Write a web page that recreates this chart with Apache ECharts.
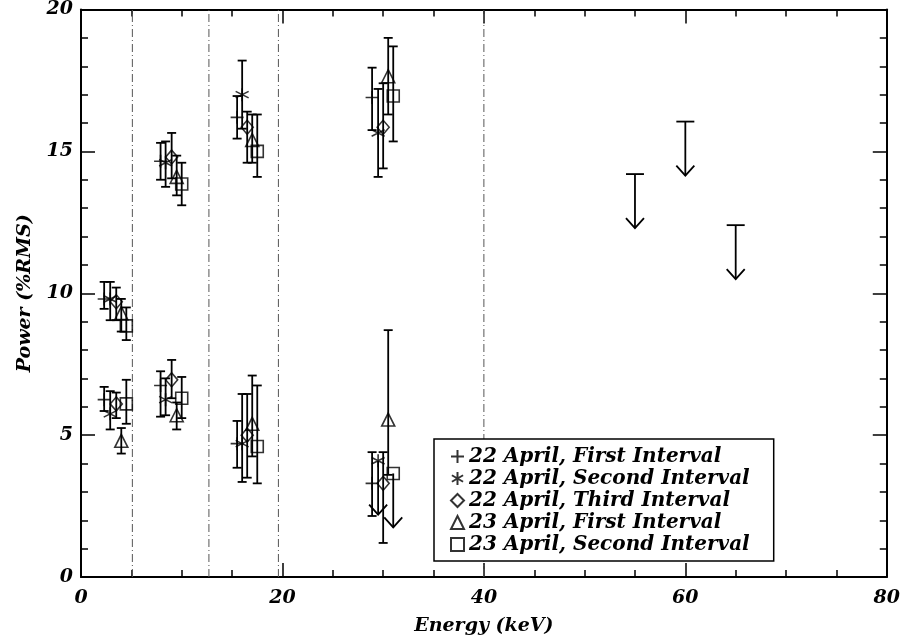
<!DOCTYPE html>
<html>
<head>
<meta charset="utf-8">
<script src="https://cdn.jsdelivr.net/npm/echarts@6/dist/echarts.min.js"></script>
<style>
  html, body { margin: 0; background: #fff; }
  #chart { width: 903px; height: 641px; }
</style>
</head>
<body>
<div id="chart"></div>
<script>
const seriesNames = [
  '22 April, First Interval',
  '22 April, Second Interval',
  '22 April, Third Interval',
  '23 April, First Interval',
  '23 April, Second Interval'
];

// rows: [energy keV, power %RMS, error low, error high]; null errors = upper limit (arrow)
const apr22First = [
  [2.3, 9.8, 9.45, 10.4], [7.9, 14.65, 14.0, 15.3], [15.5, 16.2, 15.45, 16.95], [28.9, 16.9, 15.75, 17.95],
  [2.3, 6.25, 5.85, 6.7], [7.9, 6.75, 5.65, 7.25], [15.5, 4.7, 3.85, 5.5], [28.9, 3.3, 2.15, 4.4]
];
const apr22Second = [
  [2.9, 9.8, 9.05, 10.4], [8.4, 14.6, 13.75, 15.35], [16.0, 17.0, 15.8, 18.2], [29.5, 15.65, 14.1, 17.2],
  [2.9, 5.75, 5.2, 6.55], [8.4, 6.25, 5.7, 7.0], [16.0, 4.7, 3.35, 6.45], [29.5, 4.1, null, null]
];
const apr22Third = [
  [3.5, 9.7, 9.05, 10.2], [9.0, 14.8, 14.05, 15.65], [16.5, 15.85, 14.6, 16.4], [30.0, 15.85, 14.4, 17.4],
  [3.5, 6.1, 5.6, 6.5], [9.0, 6.95, 6.3, 7.65], [16.5, 5.0, 3.5, 6.45], [30.0, 3.3, 1.2, 4.4]
];
const apr23First = [
  [4.0, 9.3, 8.65, 9.8], [9.5, 14.1, 13.45, 14.85], [17.0, 15.4, 14.6, 16.3], [30.5, 17.65, 16.3, 19.0],
  [4.0, 4.8, 4.35, 5.25], [9.5, 5.7, 5.2, 6.15], [17.0, 5.4, 4.25, 7.1], [30.5, 5.55, 3.6, 8.7]
];
const apr23Second = [
  [4.5, 8.85, 8.35, 9.5], [10.0, 13.85, 13.1, 14.6], [17.5, 15.0, 14.1, 16.3], [31.0, 16.95, 15.35, 18.7],
  [4.5, 6.1, 5.4, 6.95], [10.0, 6.3, 5.6, 7.05], [17.5, 4.6, 3.3, 6.75], [31.0, 3.65, null, null]
];

// capped upper limits at high energy: [energy keV, limit %RMS]
const highLimits = [[55, 14.2], [60, 16.05], [65, 12.4]];

// energy band boundaries (dash-dot lines)
const bandEdges = [5.1, 12.7, 19.6, 40];

const allSets = [apr22First, apr22Second, apr22Third, apr23First, apr23Second];

const FONT = 'DejaVu Serif';
const ARROW_LEN = 54;
const LW = 1.8;

const symbols = [
  'path://M0,5L10,5M5,0L5,10',
  'path://M5,0L5,10M0.7,2.5L9.3,7.5M0.7,7.5L9.3,2.5',
  'diamond',
  'triangle',
  'rect'
];
const symbolSizes = [13, 13, [12, 14], 13, 12];

const errorRows = [];
const openLimits = [];
allSets.forEach(set => set.forEach(r => {
  if (r[2] == null) openLimits.push([r[0], r[1]]);
  else errorRows.push([r[0], r[2], r[3]]);
}));

function errorBar(params, api) {
  const lo = api.coord([api.value(0), api.value(1)]);
  const hi = api.coord([api.value(0), api.value(2)]);
  const st = { stroke: '#000', lineWidth: LW, fill: 'none' };
  return {
    type: 'group',
    children: [
      { type: 'line', shape: { x1: lo[0], y1: lo[1], x2: hi[0], y2: hi[1] }, style: st },
      { type: 'line', shape: { x1: lo[0] - 4.5, y1: lo[1], x2: lo[0] + 4.5, y2: lo[1] }, style: st },
      { type: 'line', shape: { x1: hi[0] - 4.5, y1: hi[1], x2: hi[0] + 4.5, y2: hi[1] }, style: st }
    ]
  };
}

function arrow(withCap) {
  return function (params, api) {
    const p = api.coord([api.value(0), api.value(1)]);
    const tip = p[1] + ARROW_LEN;
    const st = { stroke: '#000', lineWidth: LW, fill: 'none' };
    const kids = [
      { type: 'line', shape: { x1: p[0], y1: p[1], x2: p[0], y2: tip }, style: st },
      { type: 'polyline', shape: { points: [[p[0] - 9, tip - 10], [p[0], tip], [p[0] + 9, tip - 10]] }, style: st }
    ];
    if (withCap) kids.push({ type: 'line', shape: { x1: p[0] - 9, y1: p[1], x2: p[0] + 9, y2: p[1] }, style: st });
    return { type: 'group', children: kids };
  };
}

function bandLine(params, api) {
  const b = api.coord([api.value(0), 0]);
  const t = api.coord([api.value(0), 20]);
  return {
    type: 'line',
    shape: { x1: b[0], y1: b[1], x2: t[0], y2: t[1] },
    style: { stroke: '#555', lineWidth: 1, lineDash: [8, 3, 1, 3] }
  };
}

const labelFont = { fontFamily: FONT, fontStyle: 'italic', fontWeight: 'bold', fontSize: 19, color: '#000' };

const axisCommon = {
  type: 'value',
  axisLine: { show: true, onZero: false, lineStyle: { color: '#000', width: 2 } },
  axisTick: { show: true, inside: true, length: 14, lineStyle: { color: '#000', width: 1.5 } },
  minorTick: { show: true, length: 7, lineStyle: { color: '#000', width: 1.5 } },
  splitLine: { show: false }
};

const chart = echarts.init(document.getElementById('chart'));

const series = [
  { type: 'custom', renderItem: bandLine, silent: true, z: 1, data: bandEdges.map(e => [e]) },
  { type: 'custom', renderItem: errorBar, silent: true, z: 2, data: errorRows },
  { type: 'custom', renderItem: arrow(false), silent: true, z: 2, data: openLimits },
  { type: 'custom', renderItem: arrow(true), silent: true, z: 2, data: highLimits }
];

seriesNames.forEach((name, i) => {
  series.push({
    name: name,
    type: 'scatter',
    z: 3,
    symbol: symbols[i],
    symbolSize: symbolSizes[i],
    itemStyle: { color: 'rgba(0,0,0,0)', borderColor: '#000', borderWidth: 1.6 },
    data: allSets[i].map(r => [r[0], r[1]])
  });
});

chart.setOption({
  animation: false,
  backgroundColor: '#fff',
  grid: { left: 81, right: 16, top: 8, bottom: 60 },
  legend: {
    orient: 'vertical',
    left: 434,
    top: 439,
    padding: [7, 24, 6, 16],
    itemWidth: 13,
    itemHeight: 13,
    itemGap: 1,
    itemTextGap: 8,
    borderColor: '#000',
    borderWidth: 1.5,
    backgroundColor: '#fff',
    z: 10,
    textStyle: Object.assign({}, labelFont, { fontSize: 20, lineHeight: 21 }),
    data: seriesNames
  },
  xAxis: [
    Object.assign({}, axisCommon, {
      min: 0, max: 80, interval: 20, position: 'bottom',
      minorTick: Object.assign({}, axisCommon.minorTick, { splitNumber: 4 }),
      axisLabel: Object.assign({ margin: 12 }, labelFont),
      name: 'Energy (keV)', nameLocation: 'middle', nameGap: 40,
      nameTextStyle: labelFont
    }),
    Object.assign({}, axisCommon, {
      min: 0, max: 80, interval: 20, position: 'top',
      minorTick: Object.assign({}, axisCommon.minorTick, { splitNumber: 4 }),
      axisLabel: { show: false }
    })
  ],
  yAxis: [
    Object.assign({}, axisCommon, {
      min: 0, max: 20, interval: 5, position: 'left',
      minorTick: Object.assign({}, axisCommon.minorTick, { splitNumber: 5 }),
      axisLabel: Object.assign({ margin: 8 }, labelFont),
      name: 'Power (%RMS)', nameLocation: 'middle', nameGap: 46,
      nameTextStyle: labelFont
    }),
    Object.assign({}, axisCommon, {
      min: 0, max: 20, interval: 5, position: 'right',
      minorTick: Object.assign({}, axisCommon.minorTick, { splitNumber: 5 }),
      axisLabel: { show: false }
    })
  ],
  series: series
});
</script>
</body>
</html>
